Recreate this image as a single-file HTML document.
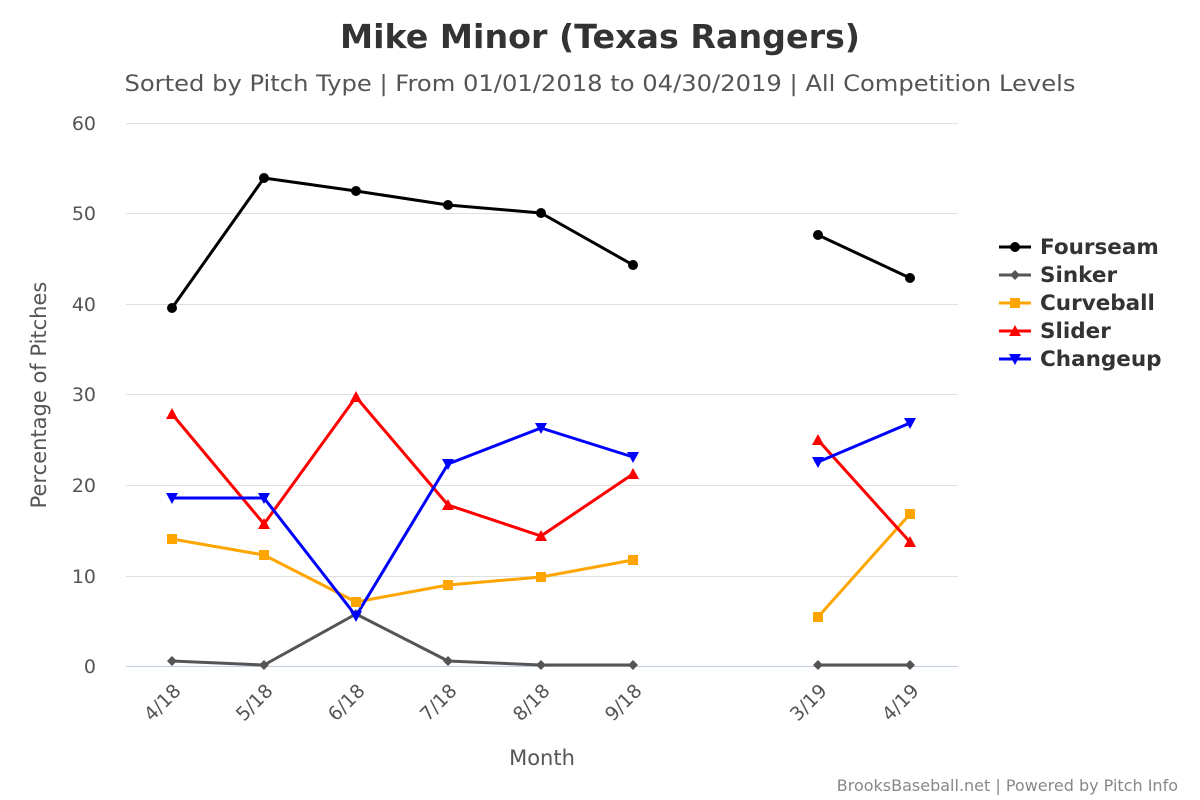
<!DOCTYPE html>
<html><head><meta charset="utf-8"><style>
body{margin:0;background:#fff;}
svg{display:block;font-family:"DejaVu Sans","Liberation Sans",sans-serif;}
</style></head><body>
<svg width="1200" height="800" viewBox="0 0 1200 800">
<rect width="1200" height="800" fill="#fff"/>
<text x="600" y="48" text-anchor="middle" font-size="33" font-weight="bold" fill="#333" textLength="520" lengthAdjust="spacingAndGlyphs">Mike Minor (Texas Rangers)</text>
<text x="600" y="91" text-anchor="middle" font-size="22" fill="#555" textLength="951" lengthAdjust="spacingAndGlyphs">Sorted by Pitch Type | From 01/01/2018 to 04/30/2019 | All Competition Levels</text>
<g stroke="#e0e0e0" stroke-width="1">
<line x1="126" x2="958" y1="123.5" y2="123.5"/>
<line x1="126" x2="958" y1="213.5" y2="213.5"/>
<line x1="126" x2="958" y1="304.5" y2="304.5"/>
<line x1="126" x2="958" y1="394.5" y2="394.5"/>
<line x1="126" x2="958" y1="485.5" y2="485.5"/>
<line x1="126" x2="958" y1="576.5" y2="576.5"/>
</g>
<line x1="126" x2="958" y1="666.5" y2="666.5" stroke="#c0d0e0"/>
<g font-size="19" fill="#555" text-anchor="end">
<text x="96" y="130">60</text><text x="96" y="220">50</text><text x="96" y="311">40</text>
<text x="96" y="401">30</text><text x="96" y="492">20</text><text x="96" y="583">10</text><text x="96" y="673">0</text>
</g>
<text transform="translate(46,395) rotate(-90)" text-anchor="middle" font-size="21" fill="#555">Percentage of Pitches</text>
<g font-size="19" fill="#555" text-anchor="end">
<text transform="translate(182,692) rotate(-45)">4/18</text>
<text transform="translate(274,692) rotate(-45)">5/18</text>
<text transform="translate(366,692) rotate(-45)">6/18</text>
<text transform="translate(458,692) rotate(-45)">7/18</text>
<text transform="translate(551,692) rotate(-45)">8/18</text>
<text transform="translate(643,692) rotate(-45)">9/18</text>
<text transform="translate(828,692) rotate(-45)">3/19</text>
<text transform="translate(920,692) rotate(-45)">4/19</text>
</g>
<text x="542" y="765" text-anchor="middle" font-size="21" fill="#555">Month</text>
<text x="1178" y="791" text-anchor="end" font-size="16" fill="#888">BrooksBaseball.net | Powered by Pitch Info</text>
<g fill="none" stroke-width="3" stroke-linejoin="round">
<polyline stroke="#000" points="172,308 264,178 356,191 448,205 541,213 633,265"/><polyline stroke="#000" points="818,235 910,278"/>
<polyline stroke="#555" points="172,661 264,665 356,614 448,661 541,665 633,665"/><polyline stroke="#555" points="818,665 910,665"/>
<polyline stroke="#ffa500" points="172,539 264,555 356,602 448,585 541,577 633,560"/><polyline stroke="#ffa500" points="818,617 910,514"/>
<polyline stroke="#ff0000" points="172,414 264,524 356,397 448,505 541,536 633,474"/><polyline stroke="#ff0000" points="818,440 910,542"/>
<polyline stroke="#0000ff" points="172,498 264,498 356,616 448,464 541,428 633,457"/><polyline stroke="#0000ff" points="818,462 910,423"/>
</g>
<g fill="#000"><circle cx="172" cy="308" r="5"/><circle cx="264" cy="178" r="5"/><circle cx="356" cy="191" r="5"/><circle cx="448" cy="205" r="5"/><circle cx="541" cy="213" r="5"/><circle cx="633" cy="265" r="5"/><circle cx="818" cy="235" r="5"/><circle cx="910" cy="278" r="5"/></g>
<g fill="#555"><path d="M172,656l5,5l-5,5l-5,-5z"/><path d="M264,660l5,5l-5,5l-5,-5z"/><path d="M356,609l5,5l-5,5l-5,-5z"/><path d="M448,656l5,5l-5,5l-5,-5z"/><path d="M541,660l5,5l-5,5l-5,-5z"/><path d="M633,660l5,5l-5,5l-5,-5z"/><path d="M818,660l5,5l-5,5l-5,-5z"/><path d="M910,660l5,5l-5,5l-5,-5z"/></g>
<g fill="#ffa500"><rect x="167" y="534" width="10" height="10"/><rect x="259" y="550" width="10" height="10"/><rect x="351" y="597" width="10" height="10"/><rect x="443" y="580" width="10" height="10"/><rect x="536" y="572" width="10" height="10"/><rect x="628" y="555" width="10" height="10"/><rect x="813" y="612" width="10" height="10"/><rect x="905" y="509" width="10" height="10"/></g>
<g fill="#ff0000"><path d="M172,408l6,11h-12z"/><path d="M264,518l6,11h-12z"/><path d="M356,391l6,11h-12z"/><path d="M448,499l6,11h-12z"/><path d="M541,530l6,11h-12z"/><path d="M633,468l6,11h-12z"/><path d="M818,434l6,11h-12z"/><path d="M910,536l6,11h-12z"/></g>
<g fill="#0000ff"><path d="M166,493h12l-6,11z"/><path d="M258,493h12l-6,11z"/><path d="M350,611h12l-6,11z"/><path d="M442,459h12l-6,11z"/><path d="M535,423h12l-6,11z"/><path d="M627,452h12l-6,11z"/><path d="M812,457h12l-6,11z"/><path d="M904,418h12l-6,11z"/></g>
<g font-size="21.5" font-weight="bold" fill="#333">
<line x1="999" x2="1031" y1="247" y2="247" stroke="#000" stroke-width="3"/><circle cx="1015" cy="247" r="5" fill="#000"/><text x="1040" y="254">Fourseam</text>
<line x1="999" x2="1031" y1="275" y2="275" stroke="#555" stroke-width="3"/><path d="M1015,270l5,5l-5,5l-5,-5z" fill="#555"/><text x="1040" y="282">Sinker</text>
<line x1="999" x2="1031" y1="303" y2="303" stroke="#ffa500" stroke-width="3"/><rect x="1010" y="298" width="10" height="10" fill="#ffa500"/><text x="1040" y="310">Curveball</text>
<line x1="999" x2="1031" y1="331" y2="331" stroke="#ff0000" stroke-width="3"/><path d="M1015,325l6,11h-12z" fill="#ff0000"/><text x="1040" y="338">Slider</text>
<line x1="999" x2="1031" y1="359" y2="359" stroke="#0000ff" stroke-width="3"/><path d="M1009,354h12l-6,11z" fill="#0000ff"/><text x="1040" y="366">Changeup</text>
</g>
</svg>
</body></html>
